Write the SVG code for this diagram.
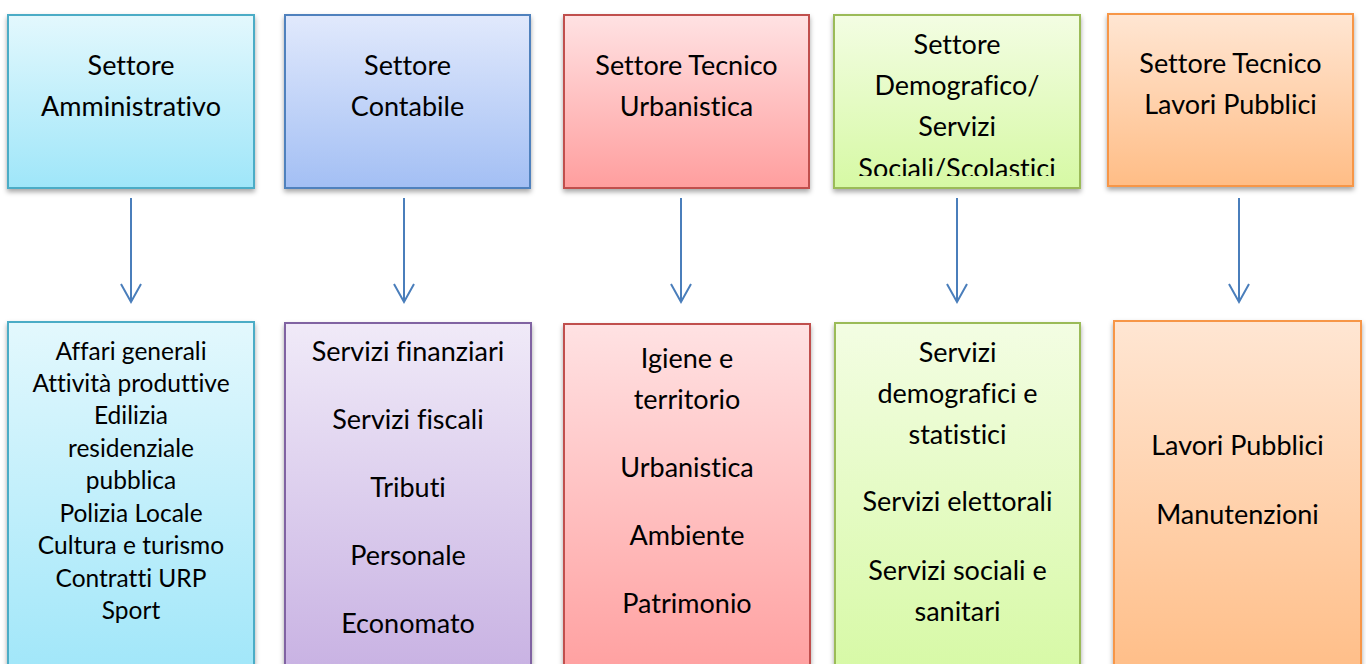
<svg xmlns="http://www.w3.org/2000/svg" width="1366" height="664" viewBox="0 0 1366 664">
<defs>
<linearGradient id="gCyan" x1="0" y1="0" x2="0" y2="1"><stop offset="0" stop-color="#E3F8FD"/><stop offset="1" stop-color="#9FE6F9"/></linearGradient>
<linearGradient id="gBlue" x1="0" y1="0" x2="0" y2="1"><stop offset="0" stop-color="#E1E9FC"/><stop offset="1" stop-color="#A3BFF4"/></linearGradient>
<linearGradient id="gRed" x1="0" y1="0" x2="0" y2="1"><stop offset="0" stop-color="#FFE2E3"/><stop offset="1" stop-color="#FF9E9E"/></linearGradient>
<linearGradient id="gGreen" x1="0" y1="0" x2="0" y2="1"><stop offset="0" stop-color="#F3FDE3"/><stop offset="1" stop-color="#D6F9A4"/></linearGradient>
<linearGradient id="gOrange" x1="0" y1="0" x2="0" y2="1"><stop offset="0" stop-color="#FFE6D3"/><stop offset="1" stop-color="#FFBD86"/></linearGradient>
<linearGradient id="gPurple" x1="0" y1="0" x2="0" y2="1"><stop offset="0" stop-color="#F0EAF8"/><stop offset="1" stop-color="#C7B0E2"/></linearGradient>
<filter id="sh" x="-10%" y="-10%" width="120%" height="130%"><feDropShadow dx="0" dy="3" stdDeviation="2.5" flood-color="#000" flood-opacity="0.35"/></filter>
<marker id="ah" markerWidth="22" markerHeight="24" refX="19" refY="11" orient="auto" markerUnits="userSpaceOnUse" viewBox="0 0 22 22">
<path d="M1 1 L19 11 L1 21" fill="none" stroke="#4A7EBB" stroke-width="2"/>
</marker>
<clipPath id="c4"><rect x="834" y="15" width="246" height="161"/></clipPath>
</defs>
<style>
text{font-family:Lato,"Open Sans","Liberation Sans",sans-serif;fill:#000;text-anchor:middle;font-variant-ligatures:none}
.t{font-size:27px}
.s{font-size:24.5px}
.box{stroke-width:2}
.conn line{stroke:#4A7EBB;stroke-width:2}
</style>

<g id="top-amministrativo">
<rect class="box" x="8" y="15" width="246" height="173" fill="url(#gCyan)" stroke="#4BACC6" filter="url(#sh)"/>
<text class="t" x="131" y="75">Settore</text>
<text class="t" x="131" y="116">Amministrativo</text>
</g>
<g id="top-contabile">
<rect class="box" x="285" y="15" width="245" height="173" fill="url(#gBlue)" stroke="#4F81BD" filter="url(#sh)"/>
<text class="t" x="407.5" y="75">Settore</text>
<text class="t" x="407.5" y="116">Contabile</text>
</g>
<g id="top-urbanistica">
<rect class="box" x="564" y="15" width="245" height="173" fill="url(#gRed)" stroke="#C0504D" filter="url(#sh)"/>
<text class="t" x="686.5" y="75">Settore Tecnico</text>
<text class="t" x="686.5" y="116">Urbanistica</text>
</g>
<g id="top-demografico">
<rect class="box" x="834" y="15" width="246" height="173" fill="url(#gGreen)" stroke="#9BBB59" filter="url(#sh)"/>
<g clip-path="url(#c4)">
<text class="t" x="957" y="54">Settore</text>
<text class="t" x="957" y="95">Demografico/</text>
<text class="t" x="957" y="136">Servizi</text>
<text class="t" x="957" y="178">Sociali/Scolastici</text>
</g>
</g>
<g id="top-lavori">
<rect class="box" x="1108" y="14" width="245" height="172" fill="url(#gOrange)" stroke="#F79646" filter="url(#sh)"/>
<text class="t" x="1230.5" y="73">Settore Tecnico</text>
<text class="t" x="1230.5" y="114">Lavori Pubblici</text>
</g>

<g id="connectors" class="conn">
<line x1="131" y1="198" x2="131" y2="302" marker-end="url(#ah)"/>
<line x1="404" y1="198" x2="404" y2="302" marker-end="url(#ah)"/>
<line x1="681" y1="198" x2="681" y2="302" marker-end="url(#ah)"/>
<line x1="957" y1="198" x2="957" y2="302" marker-end="url(#ah)"/>
<line x1="1239" y1="198" x2="1239" y2="302" marker-end="url(#ah)"/>
</g>

<g id="bottom-amministrativo">
<rect class="box" x="8" y="322" width="246" height="360" fill="url(#gCyan)" stroke="#4BACC6" filter="url(#sh)"/>
<text class="s" x="131" y="360">Affari generali</text>
<text class="s" x="131" y="392">Attività produttive</text>
<text class="s" x="131" y="424">Edilizia</text>
<text class="s" x="131" y="457">residenziale</text>
<text class="s" x="131" y="489">pubblica</text>
<text class="s" x="131" y="522">Polizia Locale</text>
<text class="s" x="131" y="554">Cultura e turismo</text>
<text class="s" x="131" y="587">Contratti URP</text>
<text class="s" x="131" y="619">Sport</text>
</g>
<g id="bottom-contabile">
<rect class="box" x="285" y="323" width="246" height="360" fill="url(#gPurple)" stroke="#8064A2" filter="url(#sh)"/>
<text class="t" x="408" y="361">Servizi finanziari</text>
<text class="t" x="408" y="429">Servizi fiscali</text>
<text class="t" x="408" y="497">Tributi</text>
<text class="t" x="408" y="565">Personale</text>
<text class="t" x="408" y="633">Economato</text>
</g>
<g id="bottom-urbanistica">
<rect class="box" x="564" y="324" width="246" height="360" fill="url(#gRed)" stroke="#C0504D" filter="url(#sh)"/>
<text class="t" x="687" y="368">Igiene e</text>
<text class="t" x="687" y="409">territorio</text>
<text class="t" x="687" y="477">Urbanistica</text>
<text class="t" x="687" y="545">Ambiente</text>
<text class="t" x="687" y="613">Patrimonio</text>
</g>
<g id="bottom-demografico">
<rect class="box" x="835" y="323" width="245" height="360" fill="url(#gGreen)" stroke="#9BBB59" filter="url(#sh)"/>
<text class="t" x="957.5" y="362">Servizi</text>
<text class="t" x="957.5" y="403">demografici e</text>
<text class="t" x="957.5" y="444">statistici</text>
<text class="t" x="957.5" y="511">Servizi elettorali</text>
<text class="t" x="957.5" y="580">Servizi sociali e</text>
<text class="t" x="957.5" y="621">sanitari</text>
</g>
<g id="bottom-lavori">
<rect class="box" x="1114" y="321" width="247" height="360" fill="url(#gOrange)" stroke="#F79646" filter="url(#sh)"/>
<text class="t" x="1237.5" y="455">Lavori Pubblici</text>
<text class="t" x="1237.5" y="524">Manutenzioni</text>
</g>
</svg>
